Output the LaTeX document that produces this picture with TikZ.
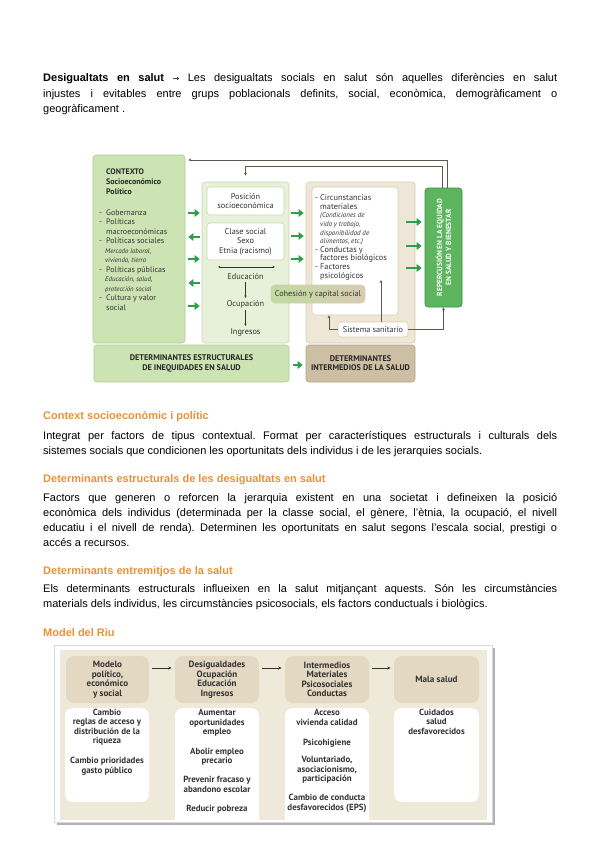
\documentclass[tikz,border=0pt]{standalone}
\usepackage{fontspec}
\setmainfont{Liberation Sans}
\newfontfamily\dgf{PT Sans}
\newfontfamily\dvs{DejaVu Sans}
\usetikzlibrary{arrows.meta,calc}
\frenchspacing
\definecolor{ctxg}{HTML}{CCE3B3}
\definecolor{ctxb}{HTML}{AFCB93}
\definecolor{midg}{HTML}{E7F0D8}
\definecolor{midb}{HTML}{C9D9B2}
\definecolor{beig}{HTML}{EEE7D7}
\definecolor{beib}{HTML}{D8CCB2}
\definecolor{brwn}{HTML}{CDBFA4}
\definecolor{brwb}{HTML}{B3A386}
\definecolor{repg}{HTML}{5DB55F}
\definecolor{repb}{HTML}{3D8F42}
\definecolor{arrg}{HTML}{2F9E4B}
\definecolor{lineg}{HTML}{5E584E}
\definecolor{txtd}{HTML}{333333}
\definecolor{orng}{HTML}{E8923A}
\definecolor{rivb}{HTML}{EFE9DA}
\definecolor{rivh}{HTML}{E3D9C3}
\definecolor{rivt}{HTML}{333333}
\definecolor{cohl}{HTML}{BFDB9F}
\tikzset{
  shp/.style={inner sep=0pt, rounded corners=3pt, line width=0.6pt},
  garrow/.style={draw=arrg, line width=1.9pt, -{Triangle[length=5pt,width=7.5pt]}},
  fb/.style={draw=lineg, line width=0.8pt, -{Stealth[length=3pt,width=2.8pt]}},
  thinar/.style={draw=txtd, line width=0.5pt, -{Stealth[length=2.5pt,width=2.2pt]}},
  dtext/.style={font=\dgf\fontsize{8}{9}\selectfont, text=txtd, inner sep=0pt},
  ptext/.style={font=\fontsize{11}{12}\selectfont, inner sep=0pt, anchor=base west},
  htext/.style={font=\bfseries\fontsize{11}{12}\selectfont, text=orng, inner sep=0pt, anchor=base west},
  rtext/.style={font=\dgf\bfseries\fontsize{8.9}{9.4}\selectfont, text=rivt, inner sep=0pt, align=center},
  rhead/.style={font=\dgf\bfseries\fontsize{9.1}{9.5}\selectfont, text=rivt, inner sep=0pt, align=center},
  rarr/.style={draw=rivt, line width=0.8pt, -{Stealth[length=3.5pt,width=3pt]}},
}
\begin{document}
\begin{tikzpicture}[x=1pt,y=-1pt]
\fill[white] (0,0) rectangle (600,848);
\useasboundingbox (0,0) rectangle (600,848);

% ---------- top paragraph ----------
\node[ptext] (p1a) at (43,82) {\makebox[514pt][s]{\textbf{Desigualtats en salut} {\dvs\fontsize{8}{10}\selectfont →} Les desigualtats socials en salut són aquelles diferències en salut}};
\node[ptext] (p1b) at (43,97.5) {\makebox[514pt][s]{injustes i evitables entre grups poblacionals definits, social, econòmica, demogràficament o}};
\node[ptext] (p1c) at (43,113) {geogràficament .};

% ---------- diagram 1 ----------
\node[shp, draw=ctxb, fill=ctxg, minimum width=92pt, minimum height=188pt] (ctx) at (139,249) {};
\node[shp, draw=ctxb, fill=ctxg, minimum width=195pt, minimum height=37pt] (strb) at (191.5,363.5) {};
\node[shp, draw=brwb, fill=brwn, minimum width=109pt, minimum height=37pt] (intb) at (360.5,363.5) {};
\node[shp, draw=midb, fill=midg, minimum width=87pt, minimum height=161pt] (mid) at (245.5,262.5) {};
\node[shp, draw=midb, fill=white, minimum width=77pt, minimum height=28pt] (pos) at (245.5,201) {};
\node[shp, draw=midb, fill=white, minimum width=77pt, minimum height=37pt] (cls) at (245.5,241.5) {};
\node[shp, draw=beib, fill=beig, minimum width=109pt, minimum height=161pt] (beige) at (360.5,262.5) {};
\node[shp, draw=beib, fill=white, minimum width=86pt, minimum height=128pt] (wht) at (355,251) {};
\node[shp, draw=beib, left color=cohl, right color=beib, minimum width=94pt, minimum height=18pt, rounded corners=4pt] (coh) at (318,294) {};
\node[shp, draw=beib, fill=white, minimum width=70pt, minimum height=15pt] (sist) at (373,329.5) {};
\node[shp, draw=repb, fill=repg, minimum width=37pt, minimum height=119pt] (rep) at (443.5,247.5) {};

% texts in diagram 1
\node[dtext, anchor=base west, align=left, text=black!85, font=\dgf\bfseries\fontsize{8}{10}\selectfont] (ctxtitle) at (106,194) {CONTEXTO\\Socioeconómico\\Político};
\node[dtext, anchor=base west, align=left, font=\dgf\fontsize{8}{9.5}\selectfont] (ctxlist) at (99,310) {%
\makebox[7pt][l]{-}Gobernanza\\
\makebox[7pt][l]{-}Políticas\\
\hspace*{7pt}macroeconómicas\\
\makebox[7pt][l]{-}Políticas sociales\\
\hspace*{6pt}{\itshape\fontsize{6.8}{9.5}\selectfont Mercado laboral,}\\
\hspace*{6pt}{\itshape\fontsize{6.8}{9.5}\selectfont vivienda, tierra}\\
\makebox[7pt][l]{-}Políticas públicas\\
\hspace*{6pt}{\itshape\fontsize{6.8}{9.5}\selectfont Educación, salud,}\\
\hspace*{6pt}{\itshape\fontsize{6.8}{9.5}\selectfont protección social}\\
\makebox[7pt][l]{-}Cultura y valor\\
\hspace*{7pt}social};

\node[dtext, align=center, font=\dgf\fontsize{8.3}{9}\selectfont] (post) at (pos.center) {Posición\\socioeconómica};
\node[dtext, align=center, font=\dgf\fontsize{8.3}{9.5}\selectfont] (clst) at (cls.center) {Clase social\\Sexo\\Etnia (racismo)};
\node[dtext, font=\dgf\fontsize{8.3}{9}\selectfont] (educ) at (245.5,277) {Educación};
\node[dtext, font=\dgf\fontsize{8.3}{9}\selectfont] (ocup) at (245.5,304) {Ocupación};
\node[dtext, font=\dgf\fontsize{8.3}{9}\selectfont] (ingr) at (245.5,332) {Ingresos};
\coordinate (dl) at (218,267);
\coordinate (dr) at (275,267);
\draw[thinar, {Stealth[length=2.5pt,width=2.2pt]}-{Stealth[length=2.5pt,width=2.2pt]}] (dl) -- (dr);
\draw[thinar, shorten <=2pt, shorten >=2pt] (educ) -- (ocup);
\draw[thinar, shorten <=2pt, shorten >=2pt] (ocup) -- (ingr);

\node[dtext, anchor=base west, align=left, font=\dgf\fontsize{8.3}{8.6}\selectfont] (whtt) at (315,278) {%
\makebox[5pt][l]{-}Circunstancias\\
\hspace*{5pt}materiales\\
\hspace*{5pt}{\itshape\fontsize{7}{8.6}\selectfont (Condiciones de}\\
\hspace*{5pt}{\itshape\fontsize{7}{8.6}\selectfont vida y trabajo,}\\
\hspace*{5pt}{\itshape\fontsize{7}{8.6}\selectfont disponibilidad de}\\
\hspace*{5pt}{\itshape\fontsize{7}{8.6}\selectfont alimentos, etc.)}\\
\makebox[5pt][l]{-}Conductas y\\
\hspace*{5pt}factores biológicos\\
\makebox[5pt][l]{-}Factores\\
\hspace*{5pt}psicológicos};
\node[dtext, font=\dgf\fontsize{8.2}{9}\selectfont] (coht) at (coh.center) {Cohesión y capital social};
\node[dtext, font=\dgf\fontsize{8.2}{9}\selectfont] (sistt) at (sist.center) {Sistema sanitario};
\node[dtext, rotate=90, align=center, text=white, font=\dgf\bfseries\fontsize{7.4}{9}\selectfont] (rept) at (rep.center) {REPERCUSIÓN EN LA EQUIDAD\\EN SALUD Y BIENESTAR};
\node[dtext, align=center, text=black!85, font=\dgf\bfseries\fontsize{8.2}{9.2}\selectfont] (strt) at (strb.center) {DETERMINANTES ESTRUCTURALES\\DE INEQUIDADES EN SALUD};
\node[dtext, align=center, text=black!85, font=\dgf\bfseries\fontsize{8.2}{9.2}\selectfont] (intt) at (intb.center) {DETERMINANTES\\INTERMEDIOS DE LA SALUD};

% green arrows
\draw[garrow] ($(ctx.east |- 0,213)+(3,0)$) -- ($(mid.west |- 0,213)+(-2,0)$);
\draw[garrow] ($(mid.west |- 0,237)+(-2,0)$) -- ($(ctx.east |- 0,237)+(3,0)$);
\draw[garrow] ($(ctx.east |- 0,259)+(3,0)$) -- ($(mid.west |- 0,259)+(-2,0)$);
\draw[garrow] ($(mid.west |- 0,283)+(-2,0)$) -- ($(ctx.east |- 0,283)+(3,0)$);
\draw[garrow] ($(ctx.east |- 0,306)+(3,0)$) -- ($(mid.west |- 0,306)+(-2,0)$);
\draw[garrow] ($(mid.east |- 0,213)+(2,0)$) -- ($(beige.west |- 0,213)+(-2,0)$);
\draw[garrow] ($(mid.east |- 0,236)+(2,0)$) -- ($(beige.west |- 0,236)+(-2,0)$);
\draw[garrow] ($(mid.east |- 0,259)+(2,0)$) -- ($(beige.west |- 0,259)+(-2,0)$);
\draw[garrow] ($(wht.east |- 0,222)+(8,0)$) -- ($(rep.west |- 0,222)+(-3,0)$);
\draw[garrow] ($(wht.east |- 0,246)+(8,0)$) -- ($(rep.west |- 0,246)+(-3,0)$);
\draw[garrow] ($(wht.east |- 0,268)+(8,0)$) -- ($(rep.west |- 0,268)+(-3,0)$);
\draw[garrow] ($(strb.east |- 0,365)+(4,0)$) -- ($(intb.west |- 0,365)+(-3,0)$);

% feedback lines
\draw[fb] ($(rep.north)+(3.5,0)$) |- ($(ctx.east |- 0,160)+(3,0)$);
\draw[fb] ($(rep.north)+(-1.5,0)$) |- (mid.north |- 0,166) -- ($(mid.north)+(0,-6)$);
\coordinate (sx) at (381,280);
\draw[fb] (sist.west) -| (wht.south -| 329,0);
\draw[fb] (sist.north -| sx) -- (sx);
\draw[fb] (sist.east) -| (rep.south);

% ---------- text sections ----------
\node[htext] (h1) at (43,419) {Context socioeconòmic i polític};
\node[ptext] (c1a) at (43,439) {\makebox[514pt][s]{Integrat per factors de tipus contextual. Format per característiques estructurals i culturals dels}};
\node[ptext] (c1b) at (43,454) {sistemes socials que condicionen les oportunitats dels individus i de les jerarquies socials.};

\node[htext] (h2) at (43,482) {Determinants estructurals de les desigualtats en salut};
\node[ptext] (c2a) at (43,501) {\makebox[514pt][s]{Factors que generen o reforcen la jerarquia existent en una societat i defineixen la posició}};
\node[ptext] (c2b) at (43,516) {\makebox[514pt][s]{econòmica dels individus (determinada per la classe social, el gènere, l’ètnia, la ocupació, el nivell}};
\node[ptext] (c2c) at (43,531) {\makebox[514pt][s]{educatiu i el nivell de renda). Determinen les oportunitats en salut segons l’escala social, prestigi o}};
\node[ptext] (c2d) at (43,546) {accés a recursos.};

\node[htext] (h3) at (43,574) {Determinants entremitjos de la salut};
\node[ptext] (c3a) at (43,592) {\makebox[514pt][s]{Els determinants estructurals influeixen en la salut mitjançant aquests. Són les circumstàncies}};
\node[ptext] (c3b) at (43,607) {materials dels individus, les circumstàncies psicosocials, els factors conductuals i biològics.};

\node[htext] (h4) at (43,636) {Model del Riu};

% ---------- Model del Riu ----------
\fill[black!30] (56.5,647.5) rectangle (494.5,824.5);
\node[inner sep=0pt, fill=white, draw=black!15, minimum width=438pt, minimum height=177pt] (frame) at (273,733.5) {};
\node[inner sep=0pt, fill=rivb, minimum width=427pt, minimum height=170pt] (river) at (273.5,735) {};
\node[shp, fill=rivh, rounded corners=8pt, minimum width=83pt, minimum height=47pt] (m1) at (107.5,679.5) {};
\node[shp, fill=rivh, rounded corners=8pt, minimum width=84pt, minimum height=47pt] (m2) at (217,679.5) {};
\node[shp, fill=rivh, rounded corners=8pt, minimum width=84pt, minimum height=47pt] (m3) at (327,679.5) {};
\node[shp, fill=rivh, rounded corners=8pt, minimum width=85pt, minimum height=47pt] (m4) at (436.5,679.5) {};
\node[shp, fill=white, rounded corners=8pt, minimum width=84pt, minimum height=94pt] (w1) at (107,755) {};
\node[shp, fill=white, rounded corners=8pt, minimum width=85pt, minimum height=94pt] (w4) at (436.5,755) {};
\begin{scope}
\clip (river.north west) rectangle (river.south east);
\node[shp, fill=white, rounded corners=8pt, minimum width=84pt, minimum height=124pt] (w2) at (217,770) {};
\node[shp, fill=white, rounded corners=8pt, minimum width=84pt, minimum height=124pt] (w3) at (327,770) {};
\end{scope}

\node[rhead] (m1t) at (m1.center) {Modelo\\político,\\económico\\y social};
\node[rhead] (m2t) at (m2.center) {Desigualdades\\Ocupación\\Educación\\Ingresos};
\node[rhead] (m3t) at (m3.center) {Intermedios\\Materiales\\Psicosociales\\Conductas};
\node[rhead] (m4t) at (m4.center) {Mala salud};

\draw[rarr] ($(m1.east |- 0,668)+(3,0)$) -- ($(m2.west |- 0,668)+(-3,0)$);
\draw[rarr] ($(m2.east |- 0,668)+(3,0)$) -- ($(m3.west |- 0,668)+(-3,0)$);
\draw[rarr] ($(m3.east |- 0,668)+(3,0)$) -- ($(m4.west |- 0,668)+(-3,0)$);

\node[rtext, anchor=base] (w1t) at (107,773) {Cambio\\reglas de acceso y\\distribución de la\\riqueza\\[10.5pt]Cambio prioridades\\gasto público};
\node[rtext, anchor=base] (w2t) at (217,811) {Aumentar\\oportunidades\\empleo\\[10.5pt]Abolir empleo\\precario\\[9.5pt]Prevenir fracaso y\\abandono escolar\\[9.5pt]Reducir pobreza};
\node[rtext, anchor=base] (w3t) at (327,810) {Acceso\\vivienda calidad\\[10.5pt]Psicohigiene\\[8.5pt]Voluntariado,\\asociacionismo,\\participación\\[9.5pt]Cambio de conducta\\desfavorecidos (EPS)};
\node[rtext, anchor=base] (w4t) at (436.5,734) {Cuidados\\salud\\desfavorecidos};
\end{tikzpicture}
\end{document}
